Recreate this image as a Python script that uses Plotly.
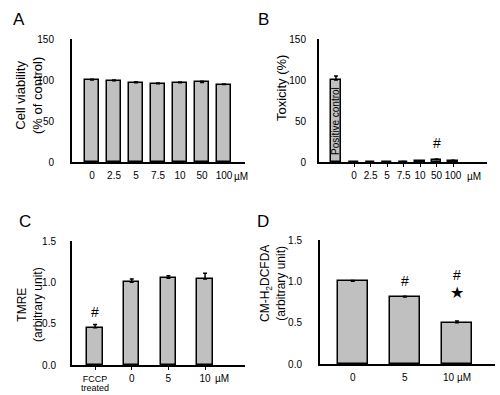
import plotly.graph_objects as go

# ---- data ----
a_doses = ["0", "2.5", "5", "7.5", "10", "50", "100"]
a_viability = [100, 99, 96.5, 95.5, 96.5, 97, 94.5]
a_err = [0.8, 1.0, 1.5, 0.8, 1.0, 1.5, 0.5]

b_pos_label = "Positive control"
b_pos_value = 100
b_pos_err = 5
b_doses = ["0", "2.5", "5", "7.5", "10", "50", "100"]
b_toxicity = [0, 0, 0.2, 0.3, 1.0, 3.0, 1.5]
b_err = [0, 0, 0.2, 0.2, 0.5, 0.8, 0.5]

c_groups = ["<span style='font-size:9px'>FCCP</span>", "0", "5", "10"]
c_first_note = "treated"
c_tmre = [0.45, 1.0, 1.05, 1.04]
c_err = [0.04, 0.04, 0.03, 0.07]

d_groups = ["0", "5", "10 µM"]
d_dcf = [1.0, 0.81, 0.5]
d_err = [0.01, 0.01, 0.02]

W, H = 500, 395
FONT = "Liberation Sans, Arial, sans-serif"
BAR = "#c0c0c0"

fig = go.Figure()

def px2fx(px):
    return px / W

def px2fy(py):
    return 1 - py / H

def bar(x, y, err, xa, ya, width):
    fig.add_trace(go.Bar(
        x=x, y=y, width=width, xaxis=xa, yaxis=ya,
        marker=dict(color=BAR, line=dict(color="black", width=1.5)),
        error_y=dict(type="data", array=err, arrayminus=[0] * len(err),
                     symmetric=False, color="black", thickness=1.5, width=2),
        showlegend=False, hoverinfo="skip"))

# Panel A
xa_pos = list(range(len(a_doses)))
bar(xa_pos, a_viability, a_err, "x", "y", 0.62)
# Panel B
bar([-1.1], [b_pos_value], [b_pos_err], "x2", "y2", 0.64)
xb_pos = list(range(len(b_doses)))
bar(xb_pos, b_toxicity, b_err, "x2", "y2", 0.58)
# Panel C
xc_pos = list(range(len(c_groups)))
bar(xc_pos, c_tmre, c_err, "x3", "y3", 0.42)
# Panel D
xd_pos = list(range(len(d_groups)))
bar(xd_pos, d_dcf, d_err, "x4", "y4", 0.58)

def xaxis(dom, rng, tickvals, ticktext, anchor, ticks="", standoff=3):
    return dict(domain=dom, range=rng, tickvals=tickvals, ticktext=ticktext,
                anchor=anchor, showline=True, linecolor="black", linewidth=2,
                showgrid=False, zeroline=False, ticks=ticks, ticklen=3,
                tickwidth=1, tickcolor="black", automargin=False,
                tickfont=dict(family=FONT, size=10, color="black"),
                ticklabelstandoff=standoff, fixedrange=True)

def yaxis(dom, rng, tickvals, fmt, anchor, standoff):
    return dict(domain=dom, range=rng, tickvals=tickvals, tickformat=fmt,
                anchor=anchor, showline=True, linecolor="black", linewidth=2,
                showgrid=False, zeroline=False, ticks="", automargin=False,
                tickfont=dict(family=FONT, size=10, color="black"),
                ticklabelstandoff=standoff, fixedrange=True)

top_dom = [px2fy(162), px2fy(39)]
bot_dom_c = [px2fy(365), px2fy(241)]
bot_dom_d = [px2fy(364), px2fy(240)]

fig.update_layout(
    template="none",
    width=W, height=H, margin=dict(l=0, r=0, t=0, b=0, autoexpand=False),
    paper_bgcolor="white", plot_bgcolor="white", bargap=0,
    font=dict(family=FONT, color="black"),
    xaxis=xaxis([px2fx(72), px2fx(245)], [-0.91, 6.95], xa_pos, a_doses, "y"),
    yaxis=yaxis(top_dom, [0, 150], [0, 50, 100, 150], "d", "x", 14),
    xaxis2=xaxis([px2fx(319), px2fx(487)], [-2.13, 8.06], xb_pos, b_doses, "y2", "outside", 0),
    yaxis2=yaxis(top_dom, [0, 150], [0, 50, 100, 150], "d", "x2", 9),
    xaxis3=xaxis([px2fx(72), px2fx(245)], [-0.63, 4.09], xc_pos, c_groups, "y3", "outside", 0),
    yaxis3=yaxis(bot_dom_c, [0, 1.5], [0, 0.5, 1.0, 1.5], ".1f", "x3", 12),
    xaxis4=xaxis([px2fx(320), px2fx(495)], [-0.63, 2.73], xd_pos, d_groups, "y4"),
    yaxis4=yaxis(bot_dom_d, [0, 1.5], [0, 0.5, 1.0, 1.5], ".1f", "x4", 14),
)

ann = []
def txt(x, y, s, size, xref="paper", yref="paper", angle=0, **kw):
    kw.setdefault("xanchor", "center")
    kw.setdefault("yanchor", "middle")
    ann.append(dict(x=x, y=y, text=s, xref=xref, yref=yref, showarrow=False,
                    textangle=angle, font=dict(family=FONT, size=size, color="black"), **kw))

# panel letters
txt(px2fx(19), px2fy(19), "A", 17)
txt(px2fx(263), px2fy(19), "B", 17)
txt(px2fx(25), px2fy(221), "C", 17)
txt(px2fx(263), px2fy(221), "D", 17)

# y axis titles
txt(px2fx(29), px2fy(96), "Cell viability<br>(% of control)", 13, angle=-90)
txt(px2fx(282), px2fy(88), "Toxicity (%)", 13, angle=-90)
txt(px2fx(30), px2fy(305), "TMRE<br>(arbitrary unit)", 12, angle=-90)
txt(px2fx(273), px2fy(284), "CM-H<sub>2</sub>DCFDA<br>(arbitrary unit)", 12, angle=-90)

# unit suffixes
txt(len(a_doses) - 1, 0, "µM", 10, xref="x", yref="y", xshift=17, yshift=-14)
txt(len(b_doses) - 1, 0, "µM", 10, xref="x2", yref="y2", xshift=21, yshift=-14)
txt(len(c_groups) - 1, 0, "µM", 10, xref="x3", yref="y3", xshift=17, yshift=-13)

# second line of first C label
txt(0, 0, c_first_note, 9, xref="x3", yref="y3", yshift=-23)

# positive control label inside bar
txt(-1.1, 50, b_pos_label, 10, xref="x2", yref="y2", angle=-90)

# significance marks
txt(5, b_toxicity[5] + b_err[5], "#", 14, xref="x2", yref="y2", yanchor="bottom", yshift=6)
txt(0, c_tmre[0] + c_err[0], "#", 14, xref="x3", yref="y3", yanchor="bottom", yshift=2)
txt(1, d_dcf[1] + d_err[1], "#", 14, xref="x4", yref="y4", yanchor="bottom", yshift=5)
txt(2, d_dcf[2] + d_err[2], "#", 14, xref="x4", yref="y4", yanchor="bottom", yshift=36)
txt(2, d_dcf[2] + d_err[2], "★", 16, xref="x4", yref="y4", yanchor="bottom", yshift=18)

fig.update_layout(annotations=ann)
fig.write_html("out.html", config={"displayModeBar": False},
               post_script="document.body.style.margin='0';")
